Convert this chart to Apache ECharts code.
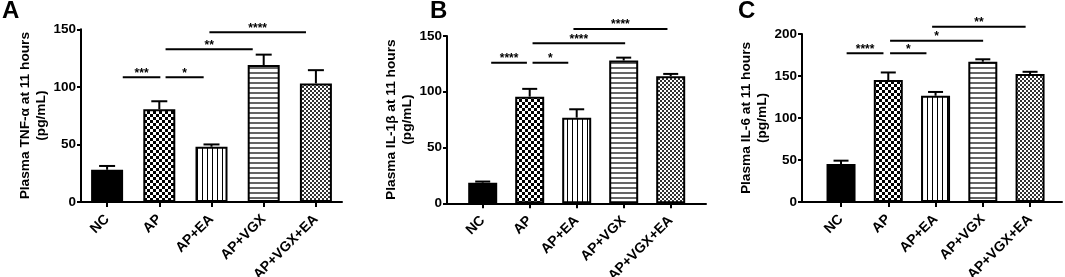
<!DOCTYPE html>
<html>
<head>
<meta charset="utf-8">
<script src="https://cdn.jsdelivr.net/npm/echarts@6/dist/echarts.min.js"></script>
<style>
html,body{margin:0;padding:0;background:#fff;}
#chart{width:1065px;height:277px;}
</style>
</head>
<body>
<div id="chart"></div>
<script>
// ---------------- DATA ----------------
const categories = ['NC', 'AP', 'AP+EA', 'AP+VGX', 'AP+VGX+EA'];

const tnfMean = [28, 80.5, 48, 119, 103];
const tnfSem  = [3.3, 7, 2, 9, 11.5];

const il1bMean = [18.5, 95.6, 76.8, 128, 114];
const il1bSem  = [1, 7, 7.5, 2.6, 2];

const il6Mean = [45.2, 145.2, 126.5, 167, 152.4];
const il6Sem  = [4, 9, 4.5, 2.9, 2.6];

// significance brackets: [from (category units), to, level, stars]
const sigA = [[0.30, 1.02, 108.3, '***'], [1.12, 1.85, 108.3, '*'], [1.12, 2.79, 132.6, '**'], [1.96, 3.81, 147.4, '****']];
const sigB = [[0.18, 0.94, 126, '****'], [1.06, 1.82, 126, '*'], [1.06, 3.03, 143.5, '****'], [1.93, 3.93, 156.3, '****']];
const sigC = [[0.12, 0.90, 177, '****'], [1.04, 1.81, 177, '*'], [1.04, 3.01, 192, '*'], [1.93, 3.91, 208.7, '**']];

const yTitleA = 'Plasma TNF-α at 11 hours\n(pg/mL)';
const yTitleB = 'Plasma IL-1β at 11 hours\n(pg/mL)';
const yTitleC = 'Plasma IL-6 at 11 hours\n(pg/mL)';

// ---------------- PATTERNS ----------------
function makePattern(w, h, draw) {
  const c = document.createElement('canvas');
  c.width = w; c.height = h;
  const g = c.getContext('2d');
  g.fillStyle = '#fff'; g.fillRect(0, 0, w, h);
  draw(g);
  return { image: c, repeat: 'repeat' };
}
const fills = [
  '#000',
  makePattern(6, 6, g => { g.fillStyle = '#000'; g.fillRect(0, 0, 3, 3); g.fillRect(3, 3, 3, 3); }),
  makePattern(5, 5, g => { g.fillStyle = '#000'; g.fillRect(2, 0, 1, 5); }),
  makePattern(5, 5, g => { g.fillStyle = '#666'; g.fillRect(0, 2, 5, 2); }),
  makePattern(4, 4, g => { g.fillStyle = '#333'; g.fillRect(0, 0, 2, 2); g.fillRect(2, 2, 2, 2); })
];

// ---------------- LAYOUT ----------------
const FONT = 'Liberation Sans, Arial, sans-serif';
const panels = [
  { mean: tnfMean, sem: tnfSem, sig: sigA, title: yTitleA, max: 150,
    wide: { left: 81, top: 29.3, width: 261, height: 172.7 }, xr: [-0.5, 4.5],
    narrow: { left: 81, width: 261 }, barW: 32, cap: 16, gap: 31 },
  { mean: il1bMean, sem: il1bSem, sig: sigB, title: yTitleB, max: 150,
    wide: { left: 447, top: 36, width: 259, height: 167.3 }, xr: [-0.76, 4.75],
    narrow: { left: 459.2, width: 235 }, barW: 29, cap: 15, gap: 27 },
  { mean: il6Mean, sem: il6Sem, sig: sigC, title: yTitleC, max: 200,
    wide: { left: 802, top: 34, width: 260, height: 168 }, xr: [-0.825, 4.68],
    narrow: { left: 817.4, width: 236.3 }, barW: 29, cap: 15, gap: 25 }
];

const grid = [], xAxis = [], yAxis = [], series = [];
panels.forEach((p, k) => {
  const wi = 2 * k, ni = 2 * k + 1;
  grid.push({ left: p.wide.left, top: p.wide.top, width: p.wide.width, height: p.wide.height, containLabel: false, outerBoundsMode: 'none' });
  grid.push({ left: p.narrow.left, top: p.wide.top, width: p.narrow.width, height: p.wide.height, containLabel: false, outerBoundsMode: 'none' });
  // wide axes
  xAxis.push({ type: 'value', gridIndex: wi, min: p.xr[0], max: p.xr[1], position: 'bottom',
    axisLine: { show: true, onZero: false, lineStyle: { color: '#000', width: 2 } },
    axisTick: { show: false }, axisLabel: { show: false }, splitLine: { show: false } });
  yAxis.push({ type: 'value', gridIndex: wi, min: 0, max: p.max, interval: 50, position: 'left',
    name: p.title, nameLocation: 'middle', nameRotate: 90, nameGap: p.gap,
    nameTextStyle: { fontFamily: FONT, fontWeight: 'bold', fontSize: 13.7, color: '#000', lineHeight: 16 },
    axisLine: { show: true, onZero: false, lineStyle: { color: '#000', width: 2 } },
    axisTick: { show: true, length: 4, lineStyle: { color: '#000', width: 2 } },
    axisLabel: { fontFamily: FONT, fontWeight: 'bold', fontSize: 13.5, color: '#000', margin: 5 },
    splitLine: { show: false } });
  // narrow axes
  xAxis.push({ type: 'category', gridIndex: ni, data: categories, position: 'bottom',
    axisLine: { show: false, onZero: false },
    axisTick: { show: true, alignWithLabel: true, length: 5, lineStyle: { color: '#000', width: 2 } },
    axisLabel: { rotate: 45, fontFamily: FONT, fontWeight: 'bold', fontSize: 14, color: '#000', margin: 15, interval: 0 } });
  yAxis.push({ type: 'value', gridIndex: ni, min: 0, max: p.max, show: false });

  series.push({ type: 'bar', xAxisIndex: ni, yAxisIndex: ni, barWidth: p.barW,
    data: p.mean.map((v, i) => ({ value: v, itemStyle: { color: fills[i] } })),
    itemStyle: { borderColor: '#000', borderWidth: 2 }, silent: true, animation: false, z: 2 });

  series.push({ type: 'custom', xAxisIndex: ni, yAxisIndex: ni, animation: false, silent: true, z: 3,
    data: p.mean.map((m, i) => [i, m, m + p.sem[i]]),
    encode: { x: 0, y: [1, 2] },
    renderItem: (params, api) => {
      const i = api.value(0);
      const a = api.coord([i, api.value(1)]);
      const b = api.coord([i, api.value(2)]);
      return { type: 'group', children: [
        { type: 'line', shape: { x1: a[0], y1: a[1], x2: b[0], y2: b[1] }, style: { stroke: '#000', lineWidth: 2 } },
        { type: 'line', shape: { x1: b[0] - p.cap / 2, y1: b[1], x2: b[0] + p.cap / 2, y2: b[1] }, style: { stroke: '#000', lineWidth: 2 } }
      ] };
    } });

  series.push({ type: 'custom', xAxisIndex: wi, yAxisIndex: wi, animation: false, silent: true, z: 4, clip: false,
    data: p.sig.map(s => [s[0], s[1], s[2]]),
    encode: { x: [0, 1], y: 2 },
    renderItem: (params, api) => {
      const a = api.coord([api.value(0), api.value(2)]);
      const b = api.coord([api.value(1), api.value(2)]);
      const label = p.sig[params.dataIndex][3];
      return { type: 'group', children: [
        { type: 'line', shape: { x1: a[0], y1: a[1], x2: b[0], y2: b[1] }, style: { stroke: '#000', lineWidth: 2 } },
        { type: 'text', x: (a[0] + b[0]) / 2, y: a[1] - 4,
          style: { text: label, fill: '#000', font: 'bold 12px ' + FONT, textAlign: 'center', textVerticalAlign: 'middle' } }
      ] };
    } });
});

const chart = echarts.init(document.getElementById('chart'), null, { renderer: 'canvas' });
chart.setOption({
  backgroundColor: '#fff',
  animation: false,
  grid, xAxis, yAxis, series,
  graphic: [
    { type: 'text', left: 2, top: -1, style: { text: 'A', font: 'bold 24px ' + FONT, fill: '#000' } },
    { type: 'text', left: 430, top: -1, style: { text: 'B', font: 'bold 24px ' + FONT, fill: '#000' } },
    { type: 'text', left: 738, top: -1, style: { text: 'C', font: 'bold 24px ' + FONT, fill: '#000' } }
  ]
});
</script>
</body>
</html>
